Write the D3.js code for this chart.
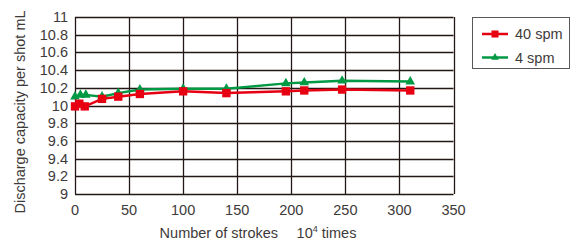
<!DOCTYPE html>
<html>
<head>
<meta charset="utf-8">
<script src="https://cdn.jsdelivr.net/npm/d3@7"></script>
<style>
  body { margin: 0; background: #fff; }
  svg text { font-family: "Liberation Sans", Arial, sans-serif; fill: #3e3a39; }
</style>
</head>
<body>
<svg width="579" height="244"></svg>
<script>
'use strict';

// strokes (x 10^4)
let strokes40 = [0, 4, 9, 25, 40, 60, 100, 140, 195, 212, 247, 310],
    values40 = [9.99, 10.02, 9.99, 10.075, 10.1, 10.13, 10.16, 10.14, 10.16, 10.17, 10.18, 10.17];
let strokes4 = [0, 5, 10, 25, 40, 60, 100, 140, 195, 212, 247, 310],
    values4 = [10.1, 10.12, 10.12, 10.1, 10.14, 10.18, 10.19, 10.19, 10.25, 10.26, 10.28, 10.27];

let xTicks = [0, 50, 100, 150, 200, 250, 300, 350],
    yTicks = [9, 9.2, 9.4, 9.6, 9.8, 10, 10.2, 10.4, 10.6, 10.8, 11];

let RED = "#e60012",
    GREEN = "#009944",
    GRID = "#231815";

let svg = d3.select("svg");

let x = d3.scaleLinear().domain([0, 350]).range([75, 453.5]),
    y = d3.scaleLinear().domain([9, 11]).range([194, 17]);

// grid
let grid = svg.append("g");
grid.selectAll("line.h")
    .data(yTicks)
    .enter().append("line")
    .attr("x1", x(0)).attr("x2", x(350))
    .attr("y1", d => Math.round(y(d)) + 0.5).attr("y2", d => Math.round(y(d)) + 0.5)
    .style("stroke", GRID).style("stroke-width", 1.3);
grid.selectAll("line.v")
    .data(xTicks)
    .enter().append("line")
    .attr("y1", y(11)).attr("y2", y(9))
    .attr("x1", d => Math.round(x(d)) + 0.5).attr("x2", d => Math.round(x(d)) + 0.5)
    .style("stroke", GRID).style("stroke-width", 1.3);

// tick labels
svg.append("g").selectAll("text")
    .data(yTicks)
    .enter().append("text")
    .attr("x", 68)
    .attr("y", d => y(d) + 5)
    .attr("text-anchor", "end")
    .style("font-size", "14.5px")
    .text(d => d3.format("")(+d.toFixed(1)));

svg.append("g").selectAll("text")
    .data(xTicks)
    .enter().append("text")
    .attr("x", d => x(d))
    .attr("y", 215)
    .attr("text-anchor", "middle")
    .style("font-size", "14.5px")
    .text(d => d);

// axis titles
svg.append("text")
    .attr("transform", "translate(25,112) rotate(-90)")
    .attr("text-anchor", "middle")
    .style("font-size", "14.5px")
    .text("Discharge capacity per shot  mL");

let xt = svg.append("text")
    .attr("x", 258).attr("y", 238)
    .attr("text-anchor", "middle")
    .style("font-size", "14.5px");
xt.append("tspan").text("Number of strokes\u2003 10");
xt.append("tspan").attr("dy", -6).style("font-size", "9px").text("4");
xt.append("tspan").attr("dy", 6).text(" times");

// series
let line = d3.line().x(d => x(d[0])).y(d => y(d[1]));

function drawSeries(xs, ys, color, marker) {
    let pts = xs.map((v, i) => [v, ys[i]]);
    svg.append("path")
        .datum(pts)
        .attr("d", line)
        .style("fill", "none")
        .style("stroke", color)
        .style("stroke-width", 2.5);
    let sym = d3.symbol().type(marker).size(marker === d3.symbolSquare ? 70 : 40);
    svg.append("g").selectAll("path")
        .data(pts)
        .enter().append("path")
        .attr("transform", d => "translate(" + x(d[0]) + "," + y(d[1]) + ")")
        .attr("d", sym)
        .style("fill", color);
}

drawSeries(strokes4, values4, GREEN, d3.symbolTriangle);
drawSeries(strokes40, values40, RED, d3.symbolSquare);

// legend
let legend = svg.append("g");
legend.append("rect")
    .attr("x", 472.5).attr("y", 17.5).attr("width", 97).attr("height", 51)
    .style("fill", "#fff").style("stroke", "#595757").style("stroke-width", 1);

let legendItems = [["40 spm", RED, d3.symbolSquare, 34], ["4 spm", GREEN, d3.symbolTriangle, 57.5]];
legendItems.forEach(function(it) {
    legend.append("line")
        .attr("x1", 482).attr("x2", 508).attr("y1", it[3]).attr("y2", it[3])
        .style("stroke", it[1]).style("stroke-width", 2.5);
    legend.append("path")
        .attr("transform", "translate(495," + it[3] + ")")
        .attr("d", d3.symbol().type(it[2]).size(it[2] === d3.symbolSquare ? 50 : 25))
        .style("fill", it[1]);
    legend.append("text")
        .attr("x", 515).attr("y", it[3] + 5)
        .style("font-size", "14.5px")
        .text(it[0]);
});
</script>
</body>
</html>
